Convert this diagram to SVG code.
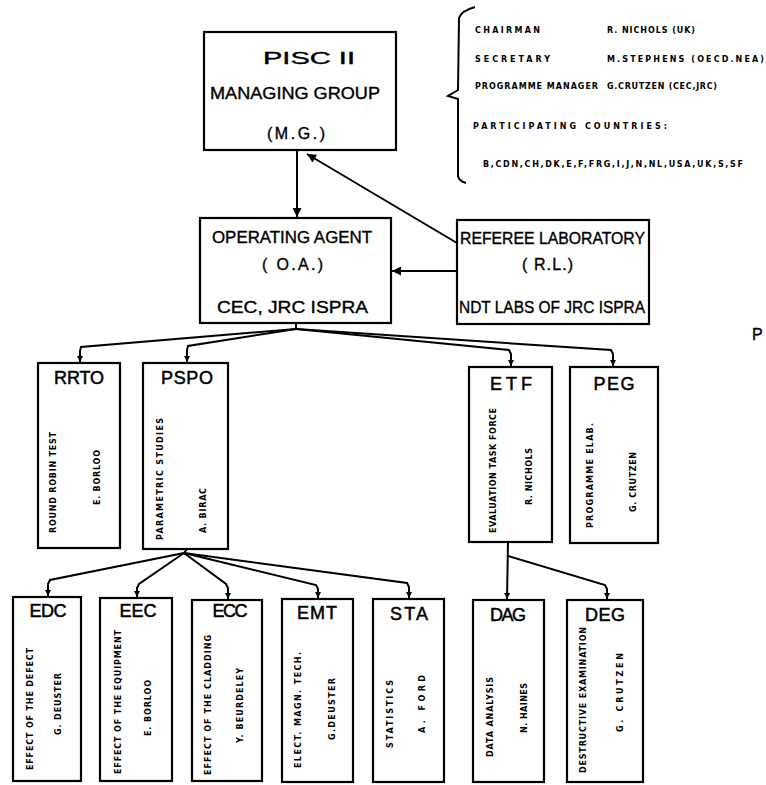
<svg xmlns="http://www.w3.org/2000/svg" width="766" height="785" viewBox="0 0 766 785">
<style>
  .box { fill: #fff; stroke: #000; stroke-width: 2.2; }
  .ln { fill: none; stroke: #000; stroke-width: 2; }
  .lbl { font-family: "Liberation Sans", Arial, sans-serif; font-size: 16px; fill: #000; stroke: #000; stroke-width: 0.35; }
  .ttl { font-family: "Liberation Sans", Arial, sans-serif; font-size: 18px; fill: #000; stroke: #000; stroke-width: 0.5; text-anchor: middle; }
  .v { font-family: "DejaVu Sans", Verdana, sans-serif; font-size: 8px; font-weight: bold; fill: #000; }
  .s { font-family: "DejaVu Sans", Verdana, sans-serif; font-size: 8px; font-weight: bold; fill: #000; }
</style>
<defs>
  <marker id="ah" viewBox="0 0 10 10" refX="10" refY="5" markerWidth="6" markerHeight="6" markerUnits="userSpaceOnUse" orient="auto">
    <path d="M0,0 L10,5 L0,10 z" fill="#000"/>
  </marker>
  <marker id="ahb" viewBox="0 0 10 10" refX="10" refY="5" markerWidth="11" markerHeight="9" markerUnits="userSpaceOnUse" orient="auto">
    <path d="M0,0 L10,5 L0,10 z" fill="#000"/>
  </marker>
</defs>
<rect width="766" height="785" fill="#fff"/>

<g id="connectors">
  <path class="ln" d="M297,150 L297,217" marker-end="url(#ahb)"/>
  <path class="ln" d="M457,243 L307,154" marker-end="url(#ahb)"/>
  <path class="ln" d="M457,271 L392,271" marker-end="url(#ahb)"/>
  <path class="ln" d="M296,323 L296,329"/>
  <path class="ln" d="M296,329 L81,347 L80,351 L80,362" marker-end="url(#ah)"/>
  <path class="ln" d="M296,329 L188,346 L187,350 L187,362" marker-end="url(#ah)"/>
  <path class="ln" d="M296,329 L509,350 L511,354 L511,366" marker-end="url(#ah)"/>
  <path class="ln" d="M296,329 L611,350 L613,354 L613,366" marker-end="url(#ah)"/>
  <path class="ln" d="M187,549 L184,553"/>
  <path class="ln" d="M184,553 L50,580 L48,584 L48,596" marker-end="url(#ah)"/>
  <path class="ln" d="M184,553 L139,584 L137,588 L137,597" marker-end="url(#ah)"/>
  <path class="ln" d="M184,553 L226,584 L228,588 L228,599" marker-end="url(#ah)"/>
  <path class="ln" d="M184,553 L316,585 L318,589 L318,598" marker-end="url(#ah)"/>
  <path class="ln" d="M184,553 L407,583 L409,587 L409,598" marker-end="url(#ah)"/>
  <path class="ln" d="M508,542 L507,599" marker-end="url(#ah)"/>
  <path class="ln" d="M508,556 L605,585 L607,589 L607,599" marker-end="url(#ah)"/>
</g>

<g id="info">
  <path class="ln" d="M475,7 Q461,11 459,18 L458,90 L448,96 L458,99 L458,176 Q459,181 466,183" stroke-width="1.6"/>
  <text class="s" x="475" y="33" textLength="65" lengthAdjust="spacing">CHAIRMAN</text>
  <text class="s" x="607" y="33" textLength="88" lengthAdjust="spacing">R. NICHOLS (UK)</text>
  <text class="s" x="475" y="62" textLength="75" lengthAdjust="spacing">SECRETARY</text>
  <text class="s" x="607" y="62" textLength="157" lengthAdjust="spacing">M.STEPHENS (OECD.NEA)</text>
  <text class="s" x="475" y="89" textLength="123" lengthAdjust="spacing">PROGRAMME MANAGER</text>
  <text class="s" x="607" y="89" textLength="110" lengthAdjust="spacing">G.CRUTZEN (CEC,JRC)</text>
  <text class="s" x="473" y="129" textLength="194" lengthAdjust="spacing">PARTICIPATING COUNTRIES:</text>
  <text class="s" x="483" y="167" textLength="260" lengthAdjust="spacing">B,CDN,CH,DK,E,F,FRG,I,J,N,NL,USA,UK,S,SF</text>
</g>

<g id="mg">
  <rect class="box" x="204" y="32" width="192" height="118"/>
  <text class="lbl" x="263" y="64" font-size="28" textLength="92" lengthAdjust="spacingAndGlyphs">PISC II</text>
  <text class="lbl" x="210" y="99" font-size="18" textLength="170" lengthAdjust="spacingAndGlyphs">MANAGING GROUP</text>
  <text class="lbl" x="267" y="139" font-size="17" textLength="58" lengthAdjust="spacing">(M.G.)</text>
</g>

<g id="oa">
  <rect class="box" x="200" y="218" width="191" height="105"/>
  <text class="lbl" x="212" y="243" textLength="160" lengthAdjust="spacingAndGlyphs">OPERATING AGENT</text>
  <text class="lbl" x="262" y="270" textLength="61" lengthAdjust="spacing">( O.A.)</text>
  <text class="lbl" x="217" y="313" textLength="151" lengthAdjust="spacingAndGlyphs">CEC, JRC  ISPRA</text>
</g>

<g id="rl">
  <rect class="box" x="457" y="220" width="192" height="104"/>
  <text class="lbl" x="460" y="244" textLength="185" lengthAdjust="spacingAndGlyphs">REFEREE LABORATORY</text>
  <text class="lbl" x="522" y="270" textLength="51" lengthAdjust="spacing">( R.L.)</text>
  <text class="lbl" x="459" y="313" textLength="186" lengthAdjust="spacingAndGlyphs">NDT LABS OF JRC ISPRA</text>
</g>

<text class="lbl" x="752" y="340" font-size="17">P</text>

<g id="rrto">
  <rect class="box" x="38" y="363" width="82" height="185"/>
  <text class="ttl" x="79" y="384" textLength="50" lengthAdjust="spacing">RRTO</text>
  <text class="v" transform="translate(56,533) rotate(-90)" textLength="101" lengthAdjust="spacing">ROUND ROBIN TEST</text>
  <text class="v" transform="translate(100,505) rotate(-90)" textLength="55" lengthAdjust="spacing">E. BORLOO</text>
</g>

<g id="pspo">
  <rect class="box" x="143" y="363" width="85" height="186"/>
  <text class="ttl" x="187" y="384" textLength="52" lengthAdjust="spacing">PSPO</text>
  <text class="v" transform="translate(163,540) rotate(-90)" textLength="122" lengthAdjust="spacing">PARAMETRIC  STUDIES</text>
  <text class="v" transform="translate(206,533) rotate(-90)" textLength="45" lengthAdjust="spacing">A. BIRAC</text>
</g>

<g id="etf">
  <rect class="box" x="469" y="367" width="83" height="175"/>
  <text class="ttl" x="511" y="390" textLength="42" lengthAdjust="spacing">ETF</text>
  <text class="v" transform="translate(496,533) rotate(-90)" textLength="125" lengthAdjust="spacing">EVALUATION TASK FORCE</text>
  <text class="v" transform="translate(532,505) rotate(-90)" textLength="57" lengthAdjust="spacing">R. NICHOLS</text>
</g>

<g id="peg">
  <rect class="box" x="570" y="367" width="88" height="176"/>
  <text class="ttl" x="614" y="390" textLength="41" lengthAdjust="spacing">PEG</text>
  <text class="v" transform="translate(593,528) rotate(-90)" textLength="105" lengthAdjust="spacing">PROGRAMME   ELAB.</text>
  <text class="v" transform="translate(636,512) rotate(-90)" textLength="60" lengthAdjust="spacing">G. CRUTZEN</text>
</g>

<g id="edc">
  <rect class="box" x="13" y="597" width="68" height="184"/>
  <text class="ttl" x="48" y="617" textLength="37" lengthAdjust="spacing">EDC</text>
  <text class="v" transform="translate(33,770) rotate(-90)" textLength="122" lengthAdjust="spacing">EFFECT OF THE DEFECT</text>
  <text class="v" transform="translate(61,735) rotate(-90)" textLength="62" lengthAdjust="spacing">G. DEUSTER</text>
</g>

<g id="eec">
  <rect class="box" x="100" y="598" width="72" height="183"/>
  <text class="ttl" x="138" y="617" textLength="37" lengthAdjust="spacing">EEC</text>
  <text class="v" transform="translate(121,774) rotate(-90)" textLength="144" lengthAdjust="spacing">EFFECT OF THE EQUIPMENT</text>
  <text class="v" transform="translate(151,736) rotate(-90)" textLength="56" lengthAdjust="spacing">E. BORLOO</text>
</g>

<g id="ecc">
  <rect class="box" x="192" y="600" width="70" height="181"/>
  <text class="ttl" x="230" y="617" textLength="35" lengthAdjust="spacing">ECC</text>
  <text class="v" transform="translate(211,775) rotate(-90)" textLength="140" lengthAdjust="spacing">EFFECT OF THE CLADDING</text>
  <text class="v" transform="translate(243,743) rotate(-90)" textLength="75" lengthAdjust="spacing">Y. BEURDELEY</text>
</g>

<g id="emt">
  <rect class="box" x="282" y="599" width="71" height="183"/>
  <text class="ttl" x="317" y="619" textLength="40" lengthAdjust="spacing">EMT</text>
  <text class="v" transform="translate(301,768) rotate(-90)" textLength="116" lengthAdjust="spacing">ELECT. MAGN. TECH.</text>
  <text class="v" transform="translate(335,740) rotate(-90)" textLength="62" lengthAdjust="spacing">G.DEUSTER</text>
</g>

<g id="sta">
  <rect class="box" x="373" y="599" width="71" height="183"/>
  <text class="ttl" x="409" y="620" textLength="38" lengthAdjust="spacing">STA</text>
  <text class="v" transform="translate(393,748) rotate(-90)" textLength="68" lengthAdjust="spacing">STATISTICS</text>
  <text class="v" transform="translate(425,733) rotate(-90)" textLength="58" lengthAdjust="spacing">A. FORD</text>
</g>

<g id="dag">
  <rect class="box" x="473" y="600" width="71" height="182"/>
  <text class="ttl" x="508" y="621" textLength="36" lengthAdjust="spacing">DAG</text>
  <text class="v" transform="translate(493,757) rotate(-90)" textLength="80" lengthAdjust="spacing">DATA ANALYSIS</text>
  <text class="v" transform="translate(527,733) rotate(-90)" textLength="50" lengthAdjust="spacing">N. HAINES</text>
</g>

<g id="deg">
  <rect class="box" x="567" y="600" width="76" height="182"/>
  <text class="ttl" x="605" y="621" textLength="40" lengthAdjust="spacing">DEG</text>
  <text class="v" transform="translate(586,773) rotate(-90)" textLength="146" lengthAdjust="spacing">DESTRUCTIVE EXAMINATION</text>
  <text class="v" transform="translate(623,732) rotate(-90)" textLength="79" lengthAdjust="spacing">G. CRUTZEN</text>
</g>
</svg>
